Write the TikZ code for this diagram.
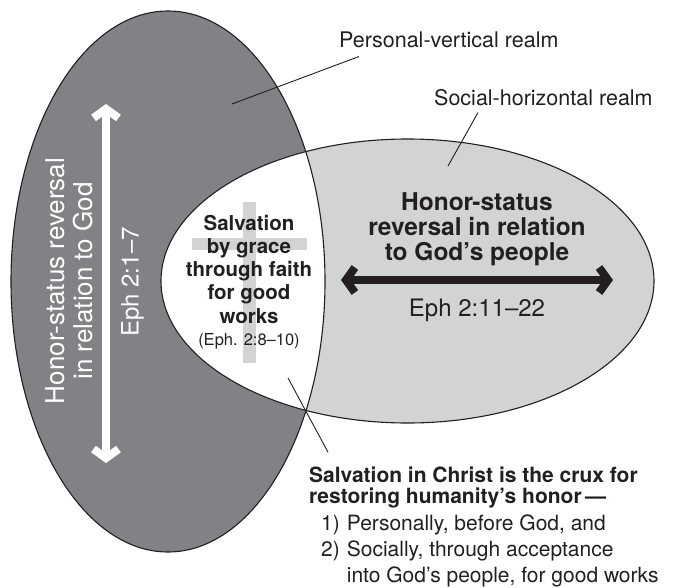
\documentclass[tikz,border=0pt]{standalone}
\usepackage{fontspec}
\setmainfont{TeX Gyre Heros}
\usepackage{xcolor}
\usetikzlibrary{arrows.meta, math}

\definecolor{darkrealm}{RGB}{128,130,133}
\definecolor{lightrealm}{RGB}{209,211,212}
\definecolor{ink}{RGB}{35,31,32}

\tikzset{
  leader/.style={ink, line width=0.9pt},
  realmedge/.style={ink, line width=1.1pt},
  fatarrow/.style={line width=8pt, {Straight Barb[length=9pt,width=25pt]}-{Straight Barb[length=9pt,width=25pt]}},
  txt/.style={inner sep=0pt, text=ink},
}

\begin{document}
\begin{tikzpicture}[x=1pt, y=-1pt]
\tikzmath{
\vx=168; \vy=281.5; \va=157; \vb=270.5;
\hx=407.5; \hy=281; \ha=246.5; \hb=142;
}
\useasboundingbox (0,0) rectangle (683,587);

\fill[darkrealm] (\vx,\vy) ellipse [x radius=\va, y radius=\vb];
\fill[lightrealm] (\hx,\hy) ellipse [x radius=\ha, y radius=\hb];
\begin{scope}
\clip (\vx,\vy) ellipse [x radius=\va, y radius=\vb];
\fill[white] (\hx,\hy) ellipse [x radius=\ha, y radius=\hb];
\end{scope}
\fill[lightrealm] (243,202) rectangle (256,363);
\fill[lightrealm] (192,238) rectangle (307,250);
\draw[realmedge] (\vx,\vy) ellipse [x radius=\va, y radius=\vb];
\draw[realmedge] (\hx,\hy) ellipse [x radius=\ha, y radius=\hb];

\coordinate (godtop) at (106,104);
\coordinate (godbot) at (106,463);
\draw[fatarrow, white] (godtop) -- (godbot);
\coordinate (peopleleft) at (341,280);
\coordinate (peopleright) at (613,280);
\draw[fatarrow, ink] (peopleleft) -- (peopleright);

\node[txt, font=\fontsize{26}{28}\selectfont, text=white, rotate=90, align=center] (godrev) at (69.5,281)
  {Honor-status reversal\\in relation to God};
\node[txt, font=\fontsize{24}{28}\selectfont, text=white, rotate=90] (godref) at (132.5,282) {Eph 2:1–7};

\node[txt, font=\fontsize{20.5}{23.25}\selectfont\bfseries, align=center, anchor=base] (grace) at (249,323)
  {Salvation\\by grace\\through faith\\for good\\works};
\node[txt, font=\fontsize{16.5}{18}\selectfont, anchor=base] (graceref) at (249,345) {(Eph. 2:8–10)};

\node[txt, font=\fontsize{24.5}{25}\selectfont\bfseries, align=center, anchor=base] (peoplerev) at (477,260)
  {Honor-status\\reversal in relation\\to God’s people};
\node[txt, font=\fontsize{24}{28}\selectfont, anchor=base] (peopleref) at (477,316) {Eph 2:11–22};

\node[txt, font=\fontsize{21.5}{25}\selectfont, anchor=base west] (pvlabel) at (339,47) {Personal-vertical realm};
\node[txt, font=\fontsize{21.5}{25}\selectfont, anchor=base west] (shlabel) at (434,105) {Social-horizontal realm};
\coordinate (pvfoot) at (232,104);
\coordinate (shfoot) at (448,166);
\draw[leader] ([xshift=20pt,yshift=-9pt]pvlabel.south west) -- (pvfoot);
\draw[leader] ([xshift=44pt,yshift=-7pt]shlabel.south west) -- (shfoot);

\node[txt, font=\fontsize{21}{21}\selectfont\bfseries, align=left, anchor=base west] (crux) at (309,503)
  {Salvation in Christ is the crux for\\restoring humanity’s honor\,—};
\node[txt, font=\fontsize{21}{26}\selectfont, align=left, anchor=base west] (ways) at (321,582)
  {1)\hspace{7pt}Personally, before God, and\\2)\hspace{7pt}Socially, through acceptance\\\phantom{2)}\hspace{7pt}into God’s people, for good works};
\coordinate (cruxfoot) at (288,378);
\draw[leader] ([xshift=19pt,yshift=14pt]crux.north west) -- (cruxfoot);
\end{tikzpicture}
\end{document}
